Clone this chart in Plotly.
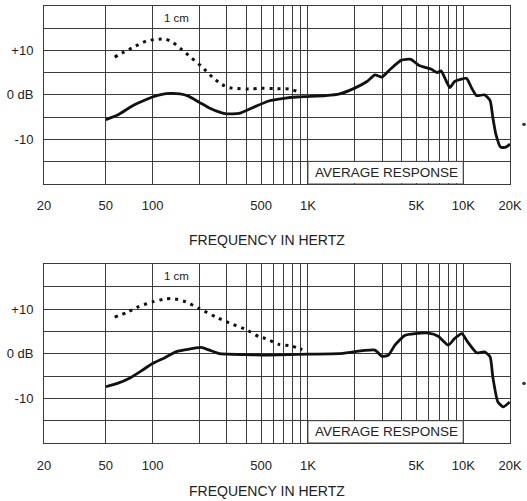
import math
import plotly.graph_objects as go

# ---------------- data ----------------
top_solid_freq = [50, 60, 74, 88, 100, 115, 130, 150, 170, 200, 230, 270, 300, 360, 440, 560, 700, 850,
                  1000, 1300, 1600, 2000, 2400, 2700, 3000, 3400, 4000, 4600, 5200, 6200, 6800, 7200,
                  8200, 8800, 10500, 11300, 12200, 13700, 14900, 15500, 16200, 17400, 18800, 20000]
top_solid_db = [-5.6, -4.5, -2.5, -1.3, -0.5, 0.1, 0.3, 0.2, -0.3, -1.7, -2.9, -3.9, -4.3, -4.2, -2.9, -1.4, -0.8, -0.5,
                -0.4, -0.2, 0.2, 1.5, 3.0, 4.5, 4.0, 5.8, 7.8, 8.0, 6.6, 5.8, 5.0, 5.4,
                1.6, 3.0, 3.7, 1.6, -0.2, 0.0, -1.3, -5.1, -8.8, -11.8, -11.8, -11.1]

top_dot_freq = [57, 66, 74, 91, 106, 122, 135, 153, 177, 205, 244, 280, 312, 438, 485, 600, 755, 870, 900]
top_dot_db = [8.5, 9.7, 10.6, 12.1, 12.5, 12.5, 11.8, 10.3, 8.4, 6.5, 3.9, 2.3, 1.6, 1.3, 1.5, 1.4, 1.3, 0.7, 0.5]

bot_solid_freq = [50, 60, 71, 85, 100, 120, 141, 164, 205, 232, 270, 400, 560, 1000, 1580, 2700, 3000, 3300,
                  3630, 4200, 4900, 5980, 6900, 8000, 8800, 9800, 10700, 12200, 13700, 14900, 15500, 16700,
                  18100, 19900]
bot_solid_db = [-7.4, -6.6, -5.5, -3.8, -2.2, -0.9, 0.4, 0.9, 1.4, 0.8, 0.0, -0.2, -0.3, -0.1, 0.0, 0.8, -0.6, -0.3,
                1.9, 4.1, 4.5, 4.6, 3.9, 1.9, 3.4, 4.5, 2.6, 0.2, 0.4, -0.7, -5.2, -10.8,
                -11.9, -10.8]

bot_dot_freq = [57, 69, 82, 100, 122, 138, 164, 200, 256, 327, 400, 485, 535, 650, 790, 920]
bot_dot_db = [8.2, 9.3, 10.6, 11.6, 12.3, 12.3, 11.6, 10.1, 8.2, 6.6, 5.4, 3.8, 3.4, 2.1, 1.7, 0.9]

x_tick_vals = [20, 50, 100, 500, 1000, 5000, 10000, 20000]
x_tick_text = ["20", "50", "100", "500", "1K", "5K", "10K", "20K"]
x_minor_vals = [200, 300, 400, 600, 700, 800, 900, 2000, 3000, 4000, 6000, 7000, 8000, 9000]
y_tick_vals = [-10, 0, 10]
y_tick_text = ["-10", "0 dB", "+10"]
y_minor_vals = [-15, -5, 5, 15]

# ---------------- styling ----------------
FONT = "Liberation Sans, Arial, Helvetica, sans-serif"
GRID = "#3c3c3c"
TXT = "#222222"

fig = go.Figure()

def add_pair(freq_s, db_s, freq_d, db_d, xa, ya):
    fig.add_trace(go.Scatter(x=freq_d, y=db_d, mode="lines", xaxis=xa, yaxis=ya,
                             line=dict(color="#111111", width=3, dash="3px,5px", shape="spline", smoothing=0.6),
                             showlegend=False, hoverinfo="skip"))
    fig.add_trace(go.Scatter(x=freq_s, y=db_s, mode="lines", xaxis=xa, yaxis=ya,
                             line=dict(color="#111111", width=2.8, shape="spline", smoothing=0.5),
                             showlegend=False, hoverinfo="skip"))

add_pair(top_solid_freq, top_solid_db, top_dot_freq, top_dot_db, "x", "y")
add_pair(bot_solid_freq, bot_solid_db, bot_dot_freq, bot_dot_db, "x2", "y2")

xaxis_common = dict(
    type="log", range=[math.log10(20), math.log10(20000)],
    tickmode="array", tickvals=x_tick_vals, ticktext=x_tick_text,
    showgrid=True, gridcolor=GRID, gridwidth=1,
    minor=dict(tickmode="array", tickvals=x_minor_vals, showgrid=True, gridcolor=GRID, gridwidth=1, ticks=""),
    showline=True, mirror=True, linecolor=GRID, linewidth=1,
    ticks="", ticklabelstandoff=10, zeroline=False,
    tickfont=dict(family=FONT, size=13, color=TXT), fixedrange=True,
)
yaxis_common = dict(
    range=[-20, 20], tickmode="array", tickvals=y_tick_vals, ticktext=y_tick_text,
    showgrid=True, gridcolor=GRID, gridwidth=1,
    minor=dict(tickmode="array", tickvals=y_minor_vals, showgrid=True, gridcolor=GRID, gridwidth=1, ticks=""),
    showline=True, mirror=True, linecolor=GRID, linewidth=1,
    ticks="", ticklabelstandoff=7, zeroline=False,
    tickfont=dict(family=FONT, size=13, color=TXT), fixedrange=True,
)

fig.update_layout(
    width=527, height=501,
    margin=dict(l=44, r=15, t=5, b=58),
    paper_bgcolor="white", plot_bgcolor="white",
    font=dict(family=FONT, color=TXT),
    xaxis=dict(xaxis_common, domain=[0, 1], anchor="y"),
    yaxis=dict(yaxis_common, domain=[0.5936, 1.0], anchor="x"),
    xaxis2=dict(xaxis_common, domain=[0, 1], anchor="y2"),
    yaxis2=dict(yaxis_common, domain=[0.0, 0.4087], anchor="x2"),
)

shapes = []
annotations = []
for xa, ya in (("x", "y"), ("x2", "y2")):
    # white label box over the grid
    shapes.append(dict(type="rect", xref=xa, yref=ya, x0=1000, x1=10000, y0=-20, y1=-15,
                       fillcolor="white", line=dict(color=GRID, width=1), layer="between"))
    # small scan dot at right edge
    shapes.append(dict(type="circle", xref=xa + " domain", yref=ya, x0=1.026, x1=1.034, y0=-7.0, y1=-6.3,
                       fillcolor="#333333", line=dict(width=0)))
    annotations.append(dict(text="AVERAGE RESPONSE", xref=xa, yref=ya, x=math.log10(3200), y=-17.5,
                            showarrow=False, font=dict(family=FONT, size=13.5, color=TXT)))
    annotations.append(dict(text="1 cm", xref=xa, yref=ya, x=math.log10(143), y=17.3,
                            showarrow=False, font=dict(family=FONT, size=11.5, color=TXT)))

annotations.append(dict(text="FREQUENCY IN HERTZ", xref="paper", yref="paper", x=0.4786, y=0.4635,
                        showarrow=False, font=dict(family=FONT, size=14, color=TXT)))
annotations.append(dict(text="FREQUENCY IN HERTZ", xref="paper", yref="paper", x=0.4786, y=-0.1324,
                        yanchor="bottom", showarrow=False, font=dict(family=FONT, size=14, color=TXT)))

fig.update_layout(shapes=shapes, annotations=annotations)

fig.write_html("out.html", config={"displayModeBar": False, "staticPlot": True},
               post_script="document.body.style.margin='0';document.body.style.overflow='hidden';")
